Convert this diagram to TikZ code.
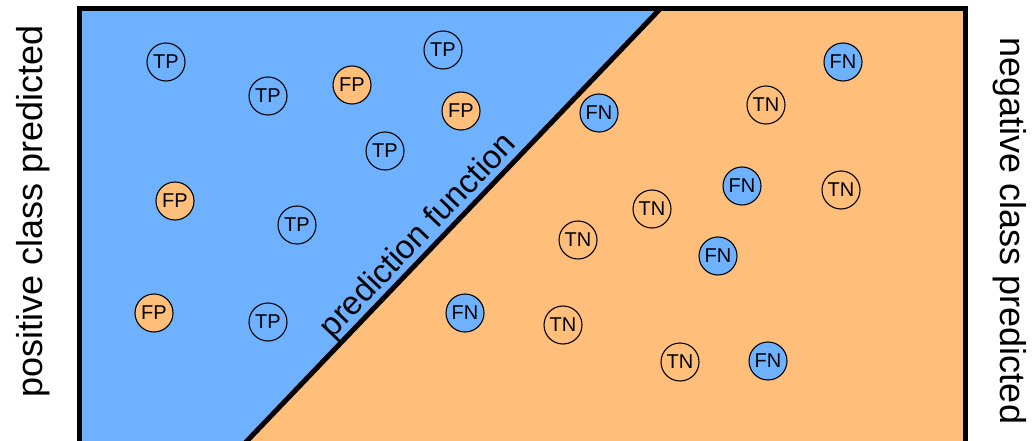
\documentclass[tikz,border=0pt]{standalone}
\usepackage{fontspec}
\setmainfont{Liberation Sans}
\begin{document}
\begin{tikzpicture}[x=1pt,y=-1pt,
  blueclr/.style={fill={rgb,255:red,109;green,177;blue,255}},
  orangeclr/.style={fill={rgb,255:red,255;green,191;blue,123}},
  pt/.style={circle, draw=black, line width=1.1pt, minimum size=38pt, inner sep=0pt,
             font=\fontsize{20}{24}\selectfont},
  ptblue/.style={pt, blueclr},
  ptorange/.style={pt, orangeclr},
  sidelabel/.style={font=\fontsize{36}{40}\selectfont, inner sep=0pt}]
\useasboundingbox (0,0) rectangle (1034,441);
\clip (0,0) rectangle (1034,441);

% decision regions
\coordinate (lt) at (660,9);
\coordinate (lb) at (247,441);
\coordinate (lbx) at (228.8,460);
\fill[blueclr] (79.5,9) -- (lt) -- (lbx) -- (79.5,460) -- cycle;
\fill[orangeclr] (lt) -- (965.5,9) -- (965.5,460) -- (lbx) -- cycle;
\draw[line width=5pt] (79.5,470) -- (79.5,9) -- (965.5,9) -- (965.5,470);

% prediction function boundary
\draw[line width=5pt] (lbx) -- (lt);
\path (lb) -- (lt) node[pos=0.446, sloped, above, inner sep=1.5pt,
  font=\fontsize{33}{38}\selectfont] (pf) {prediction function};

% positive side
\node[pt] (tp1) at (166,62) {TP};
\node[pt] (tp2) at (268,96) {TP};
\node[ptorange] (fp1) at (352,85) {FP};
\node[pt] (tp3) at (443,50) {TP};
\node[ptorange] (fp2) at (461,111) {FP};
\node[pt] (tp4) at (385,151) {TP};
\node[ptorange] (fp3) at (175,201) {FP};
\node[pt] (tp5) at (297,225) {TP};
\node[ptorange] (fp4) at (154,313) {FP};
\node[pt] (tp6) at (268,322) {TP};

% negative side
\node[ptblue] (fn1) at (599,113) {FN};
\node[pt] (tn1) at (766,105) {TN};
\node[ptblue] (fn2) at (843,62) {FN};
\node[ptblue] (fn3) at (742,186) {FN};
\node[pt] (tn2) at (841,190) {TN};
\node[pt] (tn3) at (652,209) {TN};
\node[pt] (tn4) at (578,240) {TN};
\node[ptblue] (fn4) at (718,256) {FN};
\node[ptblue] (fn5) at (465,313) {FN};
\node[pt] (tn5) at (563,325) {TN};
\node[pt] (tn6) at (680,362) {TN};
\node[ptblue] (fn6) at (768,361) {FN};

% side labels
\node[sidelabel, rotate=90] (poslbl) at (33,211) {positive class predicted};
\node[sidelabel, rotate=-90] (neglbl) at (1010,231) {negative class predicted};
\end{tikzpicture}
\end{document}
